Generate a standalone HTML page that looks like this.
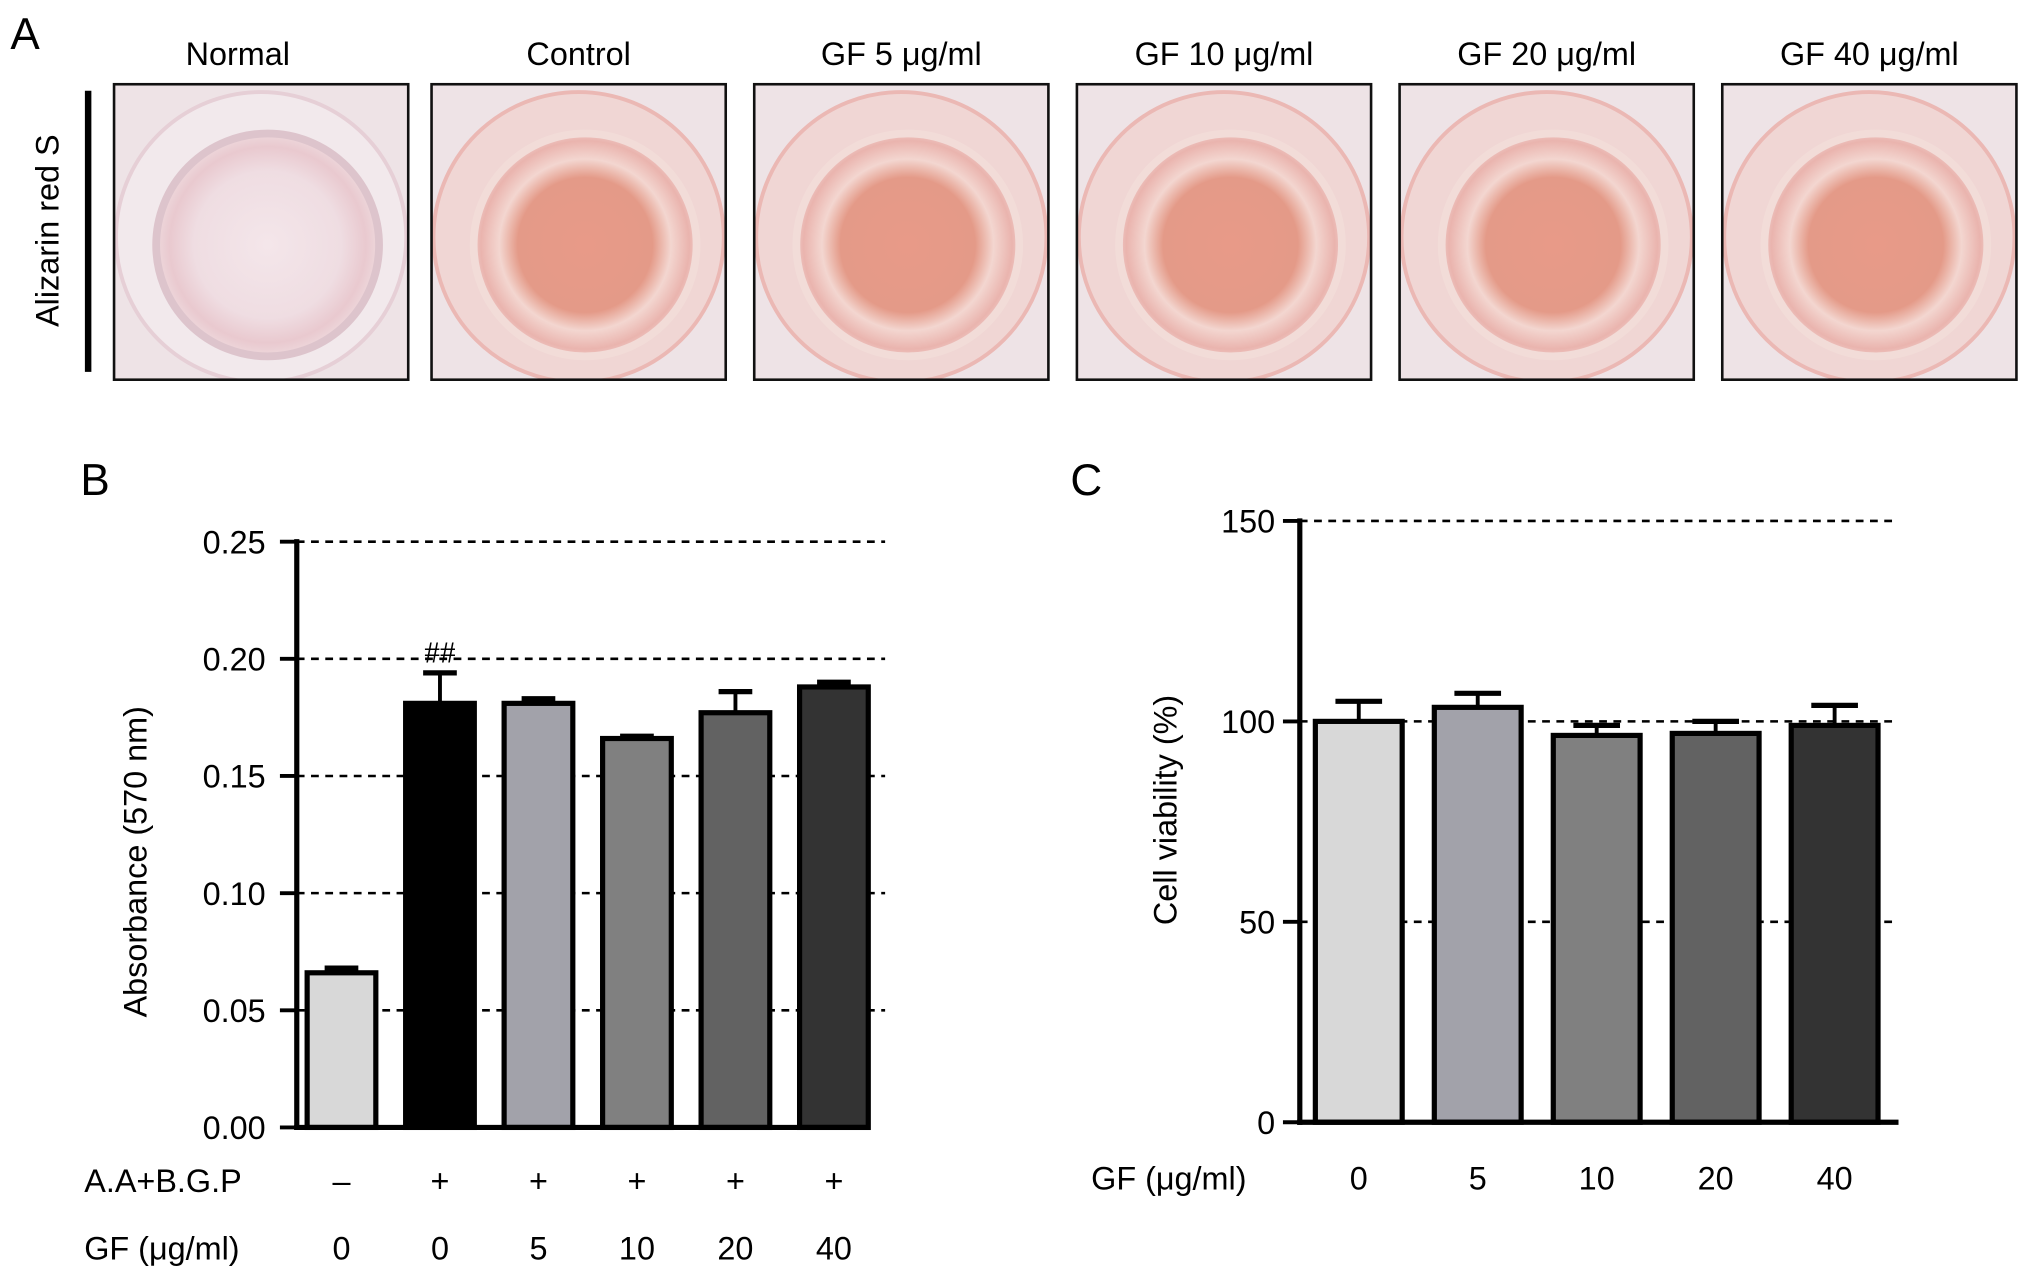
<!DOCTYPE html>
<html><head><meta charset="utf-8">
<style>
html,body{margin:0;padding:0;background:#fff;}
svg{display:block;font-family:"Liberation Sans",Arial,sans-serif;}
</style></head>
<body>
<svg id="fig" width="2032" height="1281" viewBox="0 0 1568 988.5" xmlns="http://www.w3.org/2000/svg">
<defs>
<radialGradient id="pinkWell" cx="50%" cy="50%" r="55%">
<stop offset="0%" stop-color="#e89a88"/><stop offset="55%" stop-color="#e49a88"/><stop offset="70%" stop-color="#f3d6d0"/><stop offset="85%" stop-color="#eab4ae"/><stop offset="100%" stop-color="#f2dede"/></radialGradient>
<radialGradient id="paleWell" cx="50%" cy="50%" r="55%">
<stop offset="0%" stop-color="#f4e6ea"/><stop offset="60%" stop-color="#efdde2"/><stop offset="80%" stop-color="#e9c9cf"/><stop offset="100%" stop-color="#f1e4e6"/></radialGradient>
</defs>
<g id="panelA"></g>
<g id="panelB"></g>
<g id="panelC"></g>
</svg>
<script>
const NS="http://www.w3.org/2000/svg";
function mk(parent,tag,attrs,text){const e=document.createElementNS(NS,tag);for(const k in attrs)e.setAttribute(k,attrs[k]);if(text!==undefined)e.textContent=text;parent.appendChild(e);return e;}

// ---------- Panel A ----------
const wellLabels=["Normal","Control","GF 5 \u03bcg/ml","GF 10 \u03bcg/ml","GF 20 \u03bcg/ml","GF 40 \u03bcg/ml"];
const A=document.getElementById('panelA');
const defs=document.querySelector('defs');
let t=mk(A,'text',{x:8,y:38,'font-size':34},"A");

let l=mk(A,'line',{x1:68,y1:70,x2:68,y2:287,stroke:'#000','stroke-width':5});

t=mk(A,'text',{x:45,y:178,'font-size':25,'text-anchor':'middle',transform:'rotate(-90 45 178)'},"Alizarin red S");

const wellX=[88,333,582,831,1080,1329];
wellLabels.forEach((lab,i)=>{
  const x=wellX[i],w=227,y=65,h=228;
  const cp=mk(defs,'clipPath',{id:'clip'+i});
  mk(cp,'rect',{x:x,y:y,width:w,height:h});
  const g=mk(A,'g',{'clip-path':'url(#clip'+i+')'});
  
  mk(g,'rect',{x:x,y:y,width:w,height:h,fill:'#eee3e6'});
  mk(g,'circle',{cx:x+w/2,cy:y+h/2+4,r:112,fill:i==0?'#f2e9ec':'#f0d6d4',stroke:i==0?'#e6cfd6':'#ebb8b4','stroke-width':3});
  mk(g,'circle',{cx:x+w/2+5,cy:y+h/2+10,r:86,fill:i==0?'url(#paleWell)':'url(#pinkWell)',stroke:i==0?'#ddc4cc':'#f2dcd8','stroke-width':6});
  mk(A,'rect',{x:x,y:y,width:w,height:h,fill:'none',stroke:'#111','stroke-width':2});
  const tt=mk(A,'text',{x:x+w/2-(i==0?18:0),y:50,'font-size':25,'text-anchor':'middle'},lab);
  
});

// ---------- Panel B ----------
const bCats=["0","0","5","10","20","40"];
const bAA=["\u2013","+","+","+","+","+"];
const bVals=[0.066,0.181,0.181,0.166,0.177,0.188];
const bErr=[0.002,0.013,0.002,0.001,0.009,0.002];
const bTicks=[0,0.05,0.10,0.15,0.20,0.25];
const bColors=["#d8d8d8","#000000","#a2a2aa","#808080","#626262","#333333"];
const B=document.getElementById('panelB');
const bY=v=>870-v*(870-418)/0.25;
const bX=i=>237+i*76;
const bW=53;
t=mk(B,'text',{x:62,y:382,'font-size':34},"B");
bTicks.forEach(v=>{
  if(v>0){const gl=mk(B,'line',{x1:229,x2:683,y1:bY(v),y2:bY(v),stroke:'#000','stroke-width':2,'stroke-dasharray':'6,5'});}
  const tk=mk(B,'line',{x1:216,x2:229,y1:bY(v),y2:bY(v),stroke:'#000','stroke-width':3});
  const tl=mk(B,'text',{x:205,y:bY(v)+9,'font-size':25,'text-anchor':'end'},v.toFixed(2));
});
bVals.forEach((v,i)=>{
  const x=bX(i),cx=x+bW/2,top=bY(v),et=bY(v+bErr[i]);
  const er=mk(B,'line',{x1:cx,x2:cx,y1:top,y2:et,stroke:'#000','stroke-width':3});
  const ec=mk(B,'line',{x1:cx-13,x2:cx+13,y1:et,y2:et,stroke:'#000','stroke-width':4});
  const r=mk(B,'rect',{x:x,y:top,width:bW,height:870-top,fill:bColors[i],stroke:'#000','stroke-width':4});
  
  const a=mk(B,'text',{x:cx,y:920,'font-size':25,'text-anchor':'middle'},bAA[i]);
  const c=mk(B,'text',{x:cx,y:972,'font-size':25,'text-anchor':'middle'},bCats[i]);
});
l=mk(B,'line',{x1:229,x2:229,y1:416,y2:872,stroke:'#000','stroke-width':4});
l=mk(B,'line',{x1:227,x2:670,y1:870,y2:870,stroke:'#000','stroke-width':4});
t=mk(B,'text',{x:bX(1)+bW/2,y:bY(bVals[1]+bErr[1])-8,'font-size':24,'text-anchor':'middle','font-family':'Liberation Serif, serif'},"##");
t=mk(B,'text',{x:113,y:665,'font-size':25,'text-anchor':'middle',transform:'rotate(-90 113 665)'},"Absorbance (570 nm)");
t=mk(B,'text',{x:65,y:920,'font-size':25},"A.A+B.G.P");
t=mk(B,'text',{x:65,y:972,'font-size':25},"GF (\u03bcg/ml)");

// ---------- Panel C ----------
const cCats=["0","5","10","20","40"];
const cVals=[100,103.5,96.5,97,99];
const cErr=[5,3.5,2.5,3,5];
const cTicks=[0,50,100,150];
const cColors=["#d8d8d8","#a2a2aa","#808080","#626262","#333333"];
const C=document.getElementById('panelC');
const cY=v=>866-v*(866-402)/150;
const cX=i=>1015+i*91.8;
const cW=67;
t=mk(C,'text',{x:826,y:382,'font-size':34},"C");
cTicks.forEach(v=>{
  if(v>0){const gl=mk(C,'line',{x1:1003,x2:1465,y1:cY(v),y2:cY(v),stroke:'#000','stroke-width':2,'stroke-dasharray':'6,5'});}
  const tk=mk(C,'line',{x1:990,x2:1003,y1:cY(v),y2:cY(v),stroke:'#000','stroke-width':3});
  const tl=mk(C,'text',{x:984,y:cY(v)+9,'font-size':25,'text-anchor':'end'},String(v));
});
cVals.forEach((v,i)=>{
  const x=cX(i),cx=x+cW/2,top=cY(v),et=cY(v+cErr[i]);
  const er=mk(C,'line',{x1:cx,x2:cx,y1:top,y2:et,stroke:'#000','stroke-width':3});
  const ec=mk(C,'line',{x1:cx-18,x2:cx+18,y1:et,y2:et,stroke:'#000','stroke-width':4});
  const r=mk(C,'rect',{x:x,y:top,width:cW,height:866-top,fill:cColors[i],stroke:'#000','stroke-width':4});
  
  const c=mk(C,'text',{x:cx,y:918,'font-size':25,'text-anchor':'middle'},cCats[i]);
});
l=mk(C,'line',{x1:1003,x2:1003,y1:400,y2:868,stroke:'#000','stroke-width':4});
l=mk(C,'line',{x1:1001,x2:1465,y1:866,y2:866,stroke:'#000','stroke-width':4});
t=mk(C,'text',{x:908,y:625,'font-size':25,'text-anchor':'middle',transform:'rotate(-90 908 625)'},"Cell viability (%)");
t=mk(C,'text',{x:842,y:918,'font-size':25},"GF (\u03bcg/ml)");
</script>
</body></html>
